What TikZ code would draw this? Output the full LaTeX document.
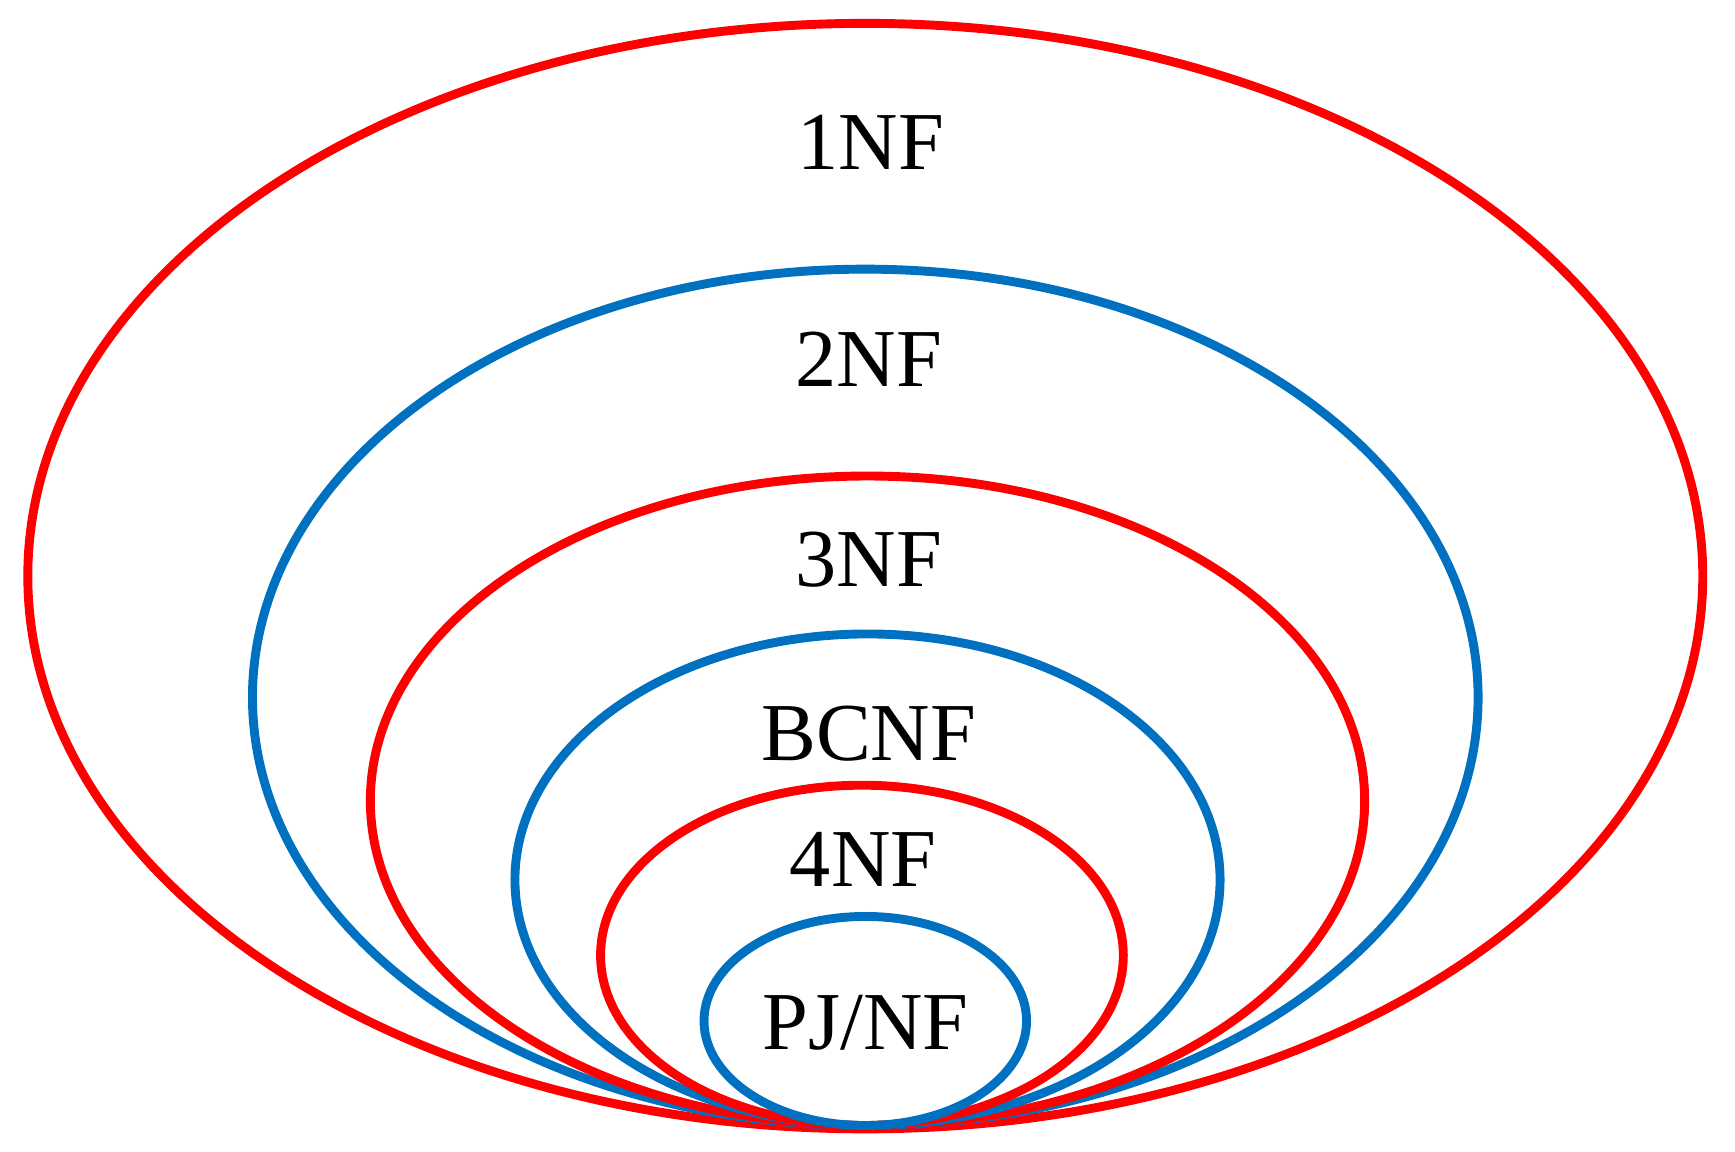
\documentclass[tikz,border=0pt]{standalone}
\usepackage{fontspec}
\setmainfont{Liberation Serif}
\definecolor{myred}{HTML}{FF0000}
\definecolor{myblue}{HTML}{0070C0}
\begin{document}
\begin{tikzpicture}[x=1pt,y=-1pt,
  ring/.style={line width=8pt},
  lab/.style={font=\fontsize{74}{80}\selectfont,inner sep=0pt}]
\useasboundingbox (0,0) rectangle (1560,1035);
\draw[ring,myred] (778,518) ellipse [x radius=753, y radius=497];
\draw[ring,myblue] (778,627) ellipse [x radius=551, y radius=385];
\draw[ring,myred] (780,720) ellipse [x radius=447, y radius=292];
\draw[ring,myblue] (780,791) ellipse [x radius=317, y radius=221];
\draw[ring,myred] (775,859) ellipse [x radius=235, y radius=153];
\draw[ring,myblue] (778,918) ellipse [x radius=145, y radius=94];
\node[lab] (n1) at (783,128) {1NF};
\node[lab] (n2) at (781,323) {2NF};
\node[lab] (n3) at (781,503) {3NF};
\node[lab] (n4) at (781,660) {BCNF};
\node[lab] (n5) at (776,773) {4NF};
\node[lab] (n6) at (778,920) {PJ/NF};
\end{tikzpicture}
\end{document}
